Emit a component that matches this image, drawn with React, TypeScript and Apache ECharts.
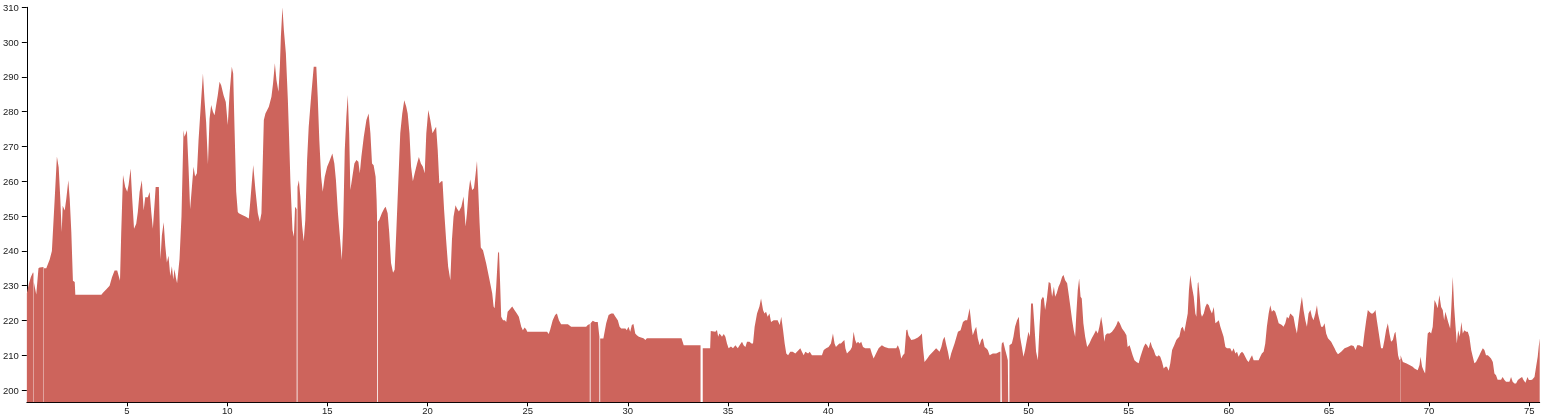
import React, { useEffect, useRef } from "react";
import * as echarts from "echarts";

// Distance along the route (km) and elevation (m); null marks a break in the profile
const distanceKm: number[] = [
  0, 0.1, 0.2, 0.31, 0.33, 0.34, 0.35, 0.47, 0.58, 0.64, 0.83, 0.84, 0.85, 0.97, 1.14, 1.25, 1.39, 1.5, 1.59, 1.67,
  1.74, 1.79, 1.89, 1.97, 2.07, 2.14, 2.22, 2.3, 2.39, 2.42, 3.72, 3.8, 3.97, 4.13, 4.25, 4.38, 4.51, 4.65, 4.71, 4.8,
  4.91, 5.01, 5.08, 5.18, 5.26, 5.35, 5.46, 5.54, 5.63, 5.74, 5.83, 5.91, 6.04, 6.13, 6.21, 6.29, 6.38, 6.43, 6.59, 6.67,
  6.74, 6.83, 6.91, 6.99, 7.07, 7.16, 7.24, 7.31, 7.37, 7.44, 7.5, 7.62, 7.72, 7.82, 7.87, 7.94, 7.99, 8.07, 8.15, 8.24,
  8.32, 8.4, 8.49, 8.57, 8.7, 8.79, 8.87, 8.95, 9.04, 9.12, 9.2, 9.29, 9.37, 9.45, 9.53, 9.62, 9.7, 9.82, 9.93, 10.03,
  10.12, 10.23, 10.3, 10.37, 10.45, 10.53, 10.58, 10.75, 10.91, 11.08, 11.16, 11.3, 11.41, 11.53, 11.63, 11.71, 11.83, 11.91, 12.08, 12.21,
  12.29, 12.38, 12.46, 12.56, 12.63, 12.68, 12.76, 12.83, 12.93, 13.03, 13.09, 13.16, 13.26, 13.33, 13.39, 13.47, 13.49, 13.51, 13.58, 13.65,
  13.74, 13.82, 13.9, 13.99, 14.07, 14.19, 14.32, 14.45, 14.52, 14.6, 14.69, 14.77, 14.87, 14.99, 15.1, 15.25, 15.35, 15.43, 15.53, 15.64,
  15.72, 15.79, 15.87, 15.95, 16.02, 16.09, 16.15, 16.25, 16.35, 16.45, 16.55, 16.62, 16.7, 16.82, 16.95, 17.06, 17.15, 17.23, 17.31, 17.41,
  17.46, 17.48, 17.5, 17.52, 17.59, 17.72, 17.84, 17.91, 18.01, 18.09, 18.18, 18.28, 18.36, 18.44, 18.56, 18.64, 18.74, 18.84, 18.94, 19.01,
  19.1, 19.18, 19.27, 19.36, 19.48, 19.57, 19.67, 19.77, 19.86, 19.94, 20.04, 20.14, 20.25, 20.33, 20.43, 20.51, 20.59, 20.69, 20.75, 20.83,
  20.93, 21.03, 21.14, 21.22, 21.3, 21.4, 21.47, 21.57, 21.69, 21.8, 21.9, 21.97, 22.05, 22.13, 22.23, 22.32, 22.4, 22.47, 22.53, 22.6,
  22.66, 22.77, 22.93, 23.1, 23.23, 23.3, 23.35, 23.43, 23.52, 23.57, 23.62, 23.68, 23.77, 23.86, 23.93, 24.0, 24.1, 24.23, 24.34, 24.46,
  24.56, 24.68, 24.76, 24.85, 24.93, 24.98, 25.97, 26.05, 26.12, 26.25, 26.37, 26.46, 26.56, 26.67, 27.01, 27.17, 27.92, 28.0, 28.1, 28.12,
  28.14, 28.25, 28.37, 28.5, 28.58, 28.6, 28.62, 28.78, 28.92, 29.04, 29.17, 29.28, 29.38, 29.5, 29.59, 29.67, 29.78, 29.88, 29.95, 30.03,
  30.12, 30.2, 30.28, 30.37, 30.45, 30.55, 30.66, 30.78, 30.88, 30.95, 32.68, 32.79, 33.63, 33.68, 33.74, 34.11, 34.14, 34.37, 34.45, 34.51,
  34.57, 34.65, 34.7, 34.79, 34.87, 34.95, 35.03, 35.15, 35.25, 35.37, 35.49, 35.58, 35.7, 35.78, 35.87, 35.95, 36.07, 36.17, 36.25, 36.33,
  36.45, 36.57, 36.65, 36.75, 36.82, 36.9, 36.98, 37.07, 37.15, 37.28, 37.4, 37.48, 37.58, 37.66, 37.75, 37.83, 37.91, 38.0, 38.11, 38.23,
  38.36, 38.53, 38.61, 38.69, 38.78, 38.86, 39.0, 39.08, 39.19, 39.69, 39.78, 39.9, 40.02, 40.14, 40.24, 40.32, 40.39, 40.47, 40.56, 40.64,
  40.72, 40.81, 40.86, 40.94, 41.02, 41.11, 41.19, 41.27, 41.35, 41.42, 41.49, 41.57, 41.65, 41.74, 41.85, 42.1, 42.18, 42.27, 42.39, 42.52,
  42.68, 42.82, 43.02, 43.4, 43.48, 43.57, 43.65, 43.73, 43.81, 43.9, 43.95, 44.01, 44.15, 44.31, 44.48, 44.61, 44.68, 44.73, 44.81, 44.95,
  45.06, 45.23, 45.39, 45.48, 45.56, 45.65, 45.73, 45.81, 45.9, 45.98, 46.06, 46.14, 46.31, 46.48, 46.61, 46.73, 46.84, 46.94, 47.01, 47.06,
  47.11, 47.17, 47.22, 47.31, 47.39, 47.47, 47.56, 47.64, 47.72, 47.81, 47.89, 47.97, 48.06, 48.22, 48.39, 48.56, 48.6, 48.62, 48.65, 48.67,
  48.74, 48.84, 48.91, 48.97, 48.99, 49.02, 49.05, 49.17, 49.25, 49.33, 49.43, 49.52, 49.58, 49.67, 49.75, 49.83, 49.92, 50.0, 50.07, 50.13,
  50.22, 50.3, 50.38, 50.47, 50.55, 50.63, 50.72, 50.77, 50.83, 50.91, 51.01, 51.1, 51.18, 51.27, 51.33, 51.41, 51.5, 51.58, 51.68, 51.75,
  51.83, 51.93, 52.0, 52.09, 52.18, 52.26, 52.33, 52.39, 52.46, 52.53, 52.6, 52.66, 52.74, 52.83, 52.93, 53.04, 53.16, 53.29, 53.37, 53.46,
  53.54, 53.63, 53.71, 53.79, 53.84, 53.92, 54.06, 54.17, 54.29, 54.39, 54.47, 54.56, 54.67, 54.79, 54.89, 54.95, 55.05, 55.12, 55.2, 55.29,
  55.39, 55.5, 55.59, 55.67, 55.75, 55.84, 55.92, 56.0, 56.09, 56.17, 56.25, 56.34, 56.42, 56.5, 56.58, 56.67, 56.75, 56.83, 56.91, 57.0,
  57.08, 57.17, 57.28, 57.38, 57.45, 57.53, 57.62, 57.7, 57.78, 57.86, 57.95, 58.01, 58.08, 58.16, 58.25, 58.33, 58.38, 58.45, 58.48, 58.55,
  58.61, 58.66, 58.75, 58.83, 58.91, 59.0, 59.08, 59.16, 59.25, 59.33, 59.41, 59.5, 59.58, 59.66, 59.74, 59.83, 59.91, 60.07, 60.16, 60.24,
  60.33, 60.41, 60.49, 60.57, 60.66, 60.74, 60.82, 60.91, 60.99, 61.07, 61.16, 61.24, 61.49, 61.57, 61.65, 61.74, 61.82, 61.9, 61.99, 62.07,
  62.15, 62.24, 62.32, 62.4, 62.49, 62.65, 62.73, 62.82, 62.9, 62.98, 63.07, 63.15, 63.23, 63.32, 63.4, 63.48, 63.57, 63.65, 63.73, 63.82,
  63.9, 63.98, 64.07, 64.15, 64.23, 64.32, 64.4, 64.45, 64.53, 64.61, 64.7, 64.78, 64.86, 64.95, 65.03, 65.11, 65.2, 65.28, 65.36, 65.45,
  65.61, 65.78, 65.94, 66.11, 66.23, 66.33, 66.41, 66.52, 66.69, 66.77, 66.86, 66.94, 67.02, 67.11, 67.19, 67.27, 67.32, 67.39, 67.49, 67.6,
  67.69, 67.77, 67.85, 67.94, 68.02, 68.1, 68.19, 68.27, 68.32, 68.39, 68.45, 68.52, 68.563, 68.57, 68.577, 68.69, 68.85, 69.02, 69.18, 69.27,
  69.43, 69.52, 69.57, 69.65, 69.72, 69.8, 69.88, 69.93, 70.02, 70.1, 70.18, 70.27, 70.35, 70.43, 70.51, 70.6, 70.68, 70.75, 70.81, 70.88,
  70.95, 71.05, 71.11, 71.18, 71.25, 71.32, 71.38, 71.45, 71.53, 71.61, 71.68, 71.76, 71.85, 71.93, 72.01, 72.1, 72.18, 72.26, 72.34, 72.43,
  72.51, 72.59, 72.68, 72.76, 72.84, 72.93, 73.01, 73.09, 73.18, 73.26, 73.34, 73.42, 73.59, 73.67, 73.76, 73.84, 74.01, 74.09, 74.17, 74.26,
  74.34, 74.43, 74.54, 74.64, 74.71, 74.81, 74.91, 74.98, 75.06, 75.14, 75.26, 75.34, 75.42, 75.47, 75.52,
];

const elevationM: (number | null)[] = [
  227.8, 230.5, 232.5, 233.9, 233.5, null, 231, 227.5, 235, 235.2, 235.4, null, 235, 235, 237.5, 240, 255, 267.1, 264, 255,
  245.4, 253, 251.6, 255, 260.3, 255, 245.4, 231.4, 231.1, 227.4, 227.4, 228, 229, 230, 232.4, 234.4, 234.4, 231.4, 245, 261.8,
  258.4, 257, 259, 263.7, 255, 246.4, 247.8, 251.2, 257, 260.3, 251.6, 255.4, 255.4, 256.9, 251.2, 246.4, 254, 258.4, 258.4, 237.6,
  244.4, 248.2, 241.5, 236.7, 238.6, 232.8, 235.6, 231.8, 234.7, 232.3, 230.7, 237.6, 250, 274.7, 272.8, 273.8, 274.7, 264.2, 252, 258.4,
  264.2, 261.4, 262.3, 271.7, 283.3, 291, 283.3, 277, 264.9, 278, 281.9, 280, 279, 281.9, 284.7, 288.6, 287.6, 284.7, 282.8, 276.2,
  285.3, 292.9, 291, 274.7, 257, 251.2, 250.8, 250.3, 249.9, 249.3, 254.6, 264.7, 257.5, 250.8, 248.4, 250.8, 277.6, 279.5, 281.4, 284.3,
  288.1, 293.9, 289.1, 285.7, 292.9, 301.5, 310, 303.5, 296.8, 283.3, 272.8, 259.4, 246, 244.1, 252.7, 252, null, 258.4, 260.3, 255.6,
  247.2, 242.7, 248.9, 266.1, 275.7, 284.3, 292.9, 292.9, 284.3, 271.8, 261.3, 257, 261.3, 264.2, 265.7, 268, 265.1, 260.3, 250.8, 243.1,
  237.4, 247, 269, 278.6, 284.8, 273.8, 257.5, 261.3, 265.1, 266.1, 265.6, 262.3, 267.1, 272.8, 277.6, 279.5, 273.8, 265.1, 264.6, 261.3,
  254.6, 250, null, 248.4, 248.9, 250.8, 252.2, 252.7, 250.8, 245.2, 236.5, 233.7, 234.6, 245.2, 262.3, 273.8, 279.5, 283.3, 281.4, 279.5,
  273.8, 264.2, 260, 262.3, 265.1, 267, 265.1, 264.2, 262.3, 273.8, 280.5, 277.6, 273.8, 274.7, 275.7, 269, 259.4, 260, 260, 251.7,
  243.1, 235.5, 231.6, 243.1, 249.8, 253.1, 252.2, 251.3, 252.7, 255.6, 247, 250.8, 257, 260.5, 257.5, 258, 262, 265.8, 258, 248,
  241, 240.2, 236.4, 231.6, 227.8, 224, 223.5, 229.7, 239.3, 239.8, 231.6, 221.1, 220.1, 220.1, 219.6, 222.5, 223.2, 224, 223, 222,
  221.1, 218.2, 217.2, 218, 217.4, 216.8, 216.8, 216.1, 217.3, 220.1, 221.6, 222, 220.1, 218.9, 218.9, 218.2, 218.2, 218.7, 219, null,
  219.2, 219.9, 219.6, 219.6, 215.3, null, 214.8, 214.8, 219.2, 221.6, 222, 222, 221.1, 220.1, 218.2, 217.7, 217.7, 217.7, 217.2, 218.2,
  216.8, 218.7, 219, 216.3, 215.8, 215.3, 215.1, 214.9, 214.4, 214.9, 214.9, 212.9, 212.9, null, 212, 212, 217, 216.8, 217.3, 215.3,
  216.3, 215.8, 215.3, 216.1, 215.3, 213.4, 212, 212.5, 212, 212.9, 212, 212.9, 213.9, 212.9, 212.4, 213.9, 213.9, 213.4, 213.4, 218.2,
  222, 224, 226.3, 223, 222, 222.5, 221.1, 222, 219.6, 220.1, 220.1, 220.1, 218.7, 221.1, 217.2, 213.4, 210.5, 210, 211, 211,
  210.5, 211.5, 212, 211, 210, 211, 210.5, 211, 210, 210, 211.5, 212, 212.4, 213.4, 216.3, 213.4, 212.4, 212.9, 213.4, 213.4,
  213.9, 214.4, 212, 210.5, 211, 211.5, 212.4, 216.8, 214.4, 213.4, 213.9, 213.4, 213.9, 212.4, 212, 212, 210.5, 209.1, 210.5, 212,
  212.9, 212.4, 212, 212, 212.9, 211.5, 209.1, 210, 210.5, 217.2, 217.4, 215.8, 214.4, 214.6, 215.1, 215.8, 216.3, 212.4, 208.1, 209.1,
  210, 211, 212, 211.5, 211, 212.4, 214.4, 215.3, 212.9, 211, 208.6, 210.5, 213.4, 216.8, 217.2, 219.6, 220.1, 220.1, 222, 223.5,
  221.1, 217.7, 215.8, 217.2, 218.2, 214.9, 212.9, 214.4, 214.9, 212.4, 212, 211.5, 210, 210.5, 210.5, 211, 211, null, 212, 213.4,
  213.9, 211.5, 210, 208.6, 208.6, null, 212.9, 213.4, 215.3, 218.2, 220.1, 221.1, 215.3, 212.4, 209.6, 211.5, 214.4, 216.8, 215.3, 224.9,
  224.9, 218.2, 211, 208.6, 218.2, 225.9, 226.8, 226.3, 223, 225.9, 231.1, 230.7, 226.8, 229.7, 226.8, 227.8, 229.7, 230.7, 232.6, 233.1,
  231.6, 230.7, 227.8, 224, 220.1, 217.2, 215.3, 222, 228.7, 232.1, 226.8, 226.3, 219.2, 215.3, 212.4, 213.4, 214.9, 216.3, 217.2, 216.3,
  218.2, 221.1, 218.2, 213.9, 215.8, 216.3, 216.3, 216.8, 217.7, 218.7, 219.9, 219.2, 217.7, 216.8, 215.8, 212.4, 212.9, 211.5, 210, 208.6,
  208.1, 207.7, 209.6, 211, 212.4, 213.4, 212.9, 212, 213.9, 212.4, 211.5, 210, 209.6, 210, 209.6, 208.1, 206.2, 206.7, 206.7, 205.6,
  207.7, 211.5, 213, 214.4, 214.9, 215.3, 217.7, 218.2, 216.8, 219.2, 222, 228.7, 233.1, 229.7, 226.8, 222, 221.1, 230.7, 231.1, 226.8,
  222, 221.1, 222, 223.9, 224.9, 224.4, 223, 222, 223.9, 219.2, 219.6, 220.1, 218.2, 216.8, 215.3, 212.4, 212, 212, 211, 212,
  210.5, 211, 209.6, 210.5, 211, 210.5, 209.6, 208.6, 208.1, 209.1, 210, 208.6, 208.6, 209.6, 210.5, 211, 213.4, 218.2, 222, 224.4,
  222.5, 223, 222.5, 221.1, 219.2, 218.7, 218.2, 219.2, 221.1, 220.6, 222, 221.6, 221.1, 218.2, 216.3, 220.1, 224, 226.8, 223, 220.1,
  218.2, 222, 223, 221.1, 220.1, 222, 224.4, 222, 220.1, 218.2, 218.2, 219.2, 216.3, 214.9, 214.4, 213.9, 212.9, 212, 211, 210.3,
  211, 212, 212.4, 212.9, 212.7, 211.5, 212.9, 212.9, 212.4, 216.3, 220.1, 223, 222.5, 222, 222, 222.5, 223, 220.1, 216.3, 212,
  212, 214.4, 217.2, 219.2, 216.3, 213.9, 214.4, 216.3, 216.8, 213.4, 210, 208.6, 209, null, 210, 208.1, 207.7, 207.2, 206.7, 206.2,
  205.7, 207.2, 209.6, 206.7, 205.7, 204.8, 212.4, 216.3, 216.8, 216.3, 218.2, 225.9, 224.9, 223.5, 227.3, 223.9, 223, 220.1, 222.5, 221.1,
  219.6, 217.7, 223.9, 232.6, 223.9, 218.2, 213.4, 217.2, 215.3, 219.6, 216.3, 217.2, 216.8, 216.8, 215.3, 211.5, 209.6, 207.7, 208.1, 209.1,
  210, 211, 212, 211.5, 210, 210, 209.6, 209.1, 208.1, 204.8, 204.3, 203, 203, 203.8, 202.9, 202.4, 202.4, 203.8, 202.4, 201.9,
  201.9, 202.9, 203.4, 203.8, 202.9, 202.1, 203.8, 202.9, 202.9, 203, 203.8, 206.7, 209.6, 212.4, 214.9,
];

const yTickValues = [200, 210, 220, 230, 240, 250, 260, 270, 280, 290, 300, 310];
const xTickValues = [5, 10, 15, 20, 25, 30, 35, 40, 45, 50, 55, 60, 65, 70, 75];

const FILL = "#cd645c";

export default function App() {
  const ref = useRef<HTMLDivElement>(null);

  useEffect(() => {
    if (!ref.current) return;
    const chart = echarts.init(ref.current, undefined, { renderer: "svg" });
    const data = distanceKm.map((d, i) => [d, elevationM[i] === null ? "-" : elevationM[i]]);
    const axisFont = { fontFamily: "'Liberation Sans', Arial, sans-serif", fontSize: 9.5, color: "#222" };
    chart.setOption({
      animation: false,
      grid: { left: 25.5, right: 1.3, top: 7.3, bottom: 16.7, containLabel: false },
      xAxis: {
        type: "value",
        min: 0,
        max: 75.52,
        axisLine: { show: true, lineStyle: { color: "#000", width: 1 } },
        axisTick: { show: true, length: 4, lineStyle: { color: "#000" }, customValues: xTickValues },
        axisLabel: { ...axisFont, margin: 3, customValues: xTickValues },
        splitLine: { show: false },
      },
      yAxis: {
        type: "value",
        min: 196.5,
        max: 310,
        axisLine: { show: true, lineStyle: { color: "#000", width: 1 } },
        axisTick: { show: true, length: 5, lineStyle: { color: "#000" }, customValues: yTickValues },
        axisLabel: { ...axisFont, margin: 8, customValues: yTickValues },
        splitLine: { show: false },
      },
      series: [
        {
          type: "line",
          data,
          showSymbol: false,
          connectNulls: false,
          lineStyle: { width: 0, color: FILL },
          itemStyle: { color: FILL },
          areaStyle: { color: FILL, opacity: 1, origin: "start" },
          z: 1,
        },
      ],
    });
    return () => chart.dispose();
  }, []);

  return <div ref={ref} style={{ position: "fixed", left: 0, top: 0, width: 1541, height: 419 }} />;
}
